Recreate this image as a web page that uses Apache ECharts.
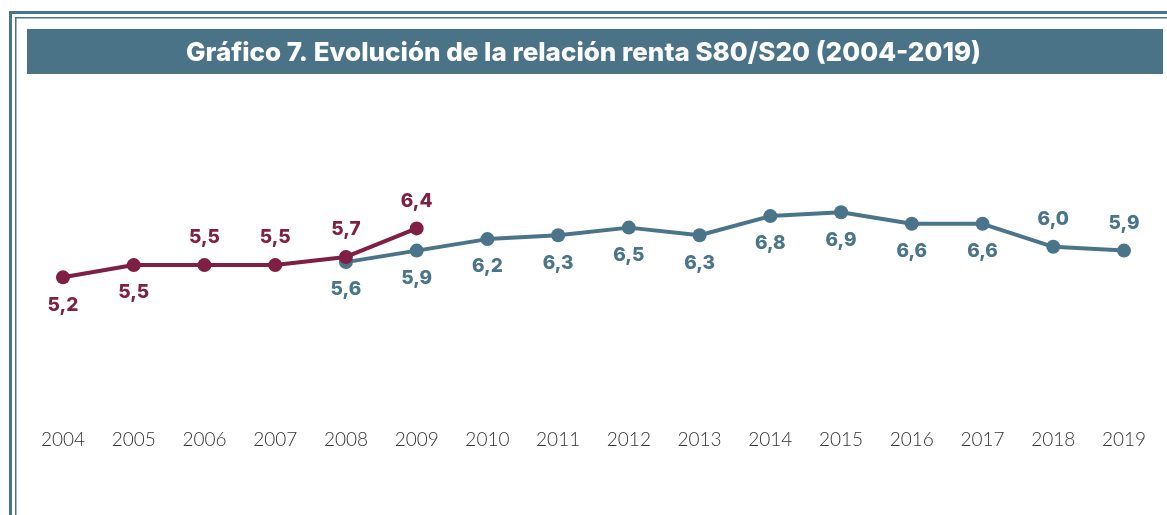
<!DOCTYPE html>
<html><head><meta charset="utf-8">
<script src="https://cdn.jsdelivr.net/npm/echarts@6/dist/echarts.min.js"></script>
<style>html,body{margin:0;padding:0;background:#fff}#c{width:1167px;height:515px}</style>
</head><body><div id="c"></div>
<script>
const years = ['2004','2005','2006','2007','2008','2009','2010','2011','2012','2013','2014','2015','2016','2017','2018','2019'];
const seriesOld = [5.2, 5.5, 5.5, 5.5, 5.7, 6.4, null, null, null, null, null, null, null, null, null, null];
const seriesNew = [null, null, null, null, 5.6, 5.9, 6.2, 6.3, 6.5, 6.3, 6.8, 6.9, 6.6, 6.6, 6.0, 5.9];
const oldLabelPos = ['bottom','bottom','top','top','top','top'];
const newLabelPos = {2018:'top', 2019:'top'};
const titleText = 'Gráfico 7. Evolución de la relación renta S80/S20 (2004-2019)';

const MAROON = '#7e1f43', BLUE = '#4a7489';
const fmt = p => p.value == null ? '' : String(p.value.toFixed(1)).replace('.', ',');
const labelBase = {show:true, fontFamily:'Inter', fontWeight:800, fontSize:19, distance:11, formatter:fmt};

const chart = echarts.init(document.getElementById('c'), null, {renderer:'canvas'});
chart.setOption({
  animation:false,
  graphic:[
    {type:'rect', shape:{x:9,y:11,width:1200,height:3}, style:{fill:BLUE}},
    {type:'rect', shape:{x:9,y:11,width:3,height:600}, style:{fill:BLUE}},
    {type:'rect', shape:{x:15,y:17,width:1200,height:1.5}, style:{fill:BLUE}},
    {type:'rect', shape:{x:15,y:17,width:1.5,height:600}, style:{fill:BLUE}},
    {type:'rect', shape:{x:27,y:29,width:1136,height:45}, style:{fill:'#4a7388'}}
  ],
  title:{text:titleText, left:'center', top:35, textStyle:{color:'#fff', fontFamily:'Inter', fontWeight:800, fontSize:26}},
  grid:{left:63, right:43, top:100, bottom:95},
  xAxis:{type:'category', data:years, boundaryGap:false,
    axisLine:{show:false}, axisTick:{show:false}, splitLine:{show:false},
    axisLabel:{color:'#333', fontFamily:'Lato', fontWeight:300, fontSize:19, margin:10}},
  yAxis:[
    {type:'value', min:1.7, max:9.55, show:false},
    {type:'value', min:1.48, max:9.83, show:false}
  ],
  series:[
    {type:'line', yAxisIndex:1, data:seriesNew.map((v,i)=>({value:v, label:{position:newLabelPos[years[i]]||'bottom'}})),
     connectNulls:false, symbol:'circle', symbolSize:14, lineStyle:{color:BLUE,width:4}, itemStyle:{color:BLUE},
     label:Object.assign({color:BLUE}, labelBase), z:2},
    {type:'line', yAxisIndex:0, data:seriesOld.map((v,i)=>({value:v, label:{position:oldLabelPos[i]||'top'}})),
     connectNulls:false, symbol:'circle', symbolSize:14, lineStyle:{color:MAROON,width:4}, itemStyle:{color:MAROON},
     label:Object.assign({color:MAROON}, labelBase), z:3}
  ]
});
</script></body></html>
